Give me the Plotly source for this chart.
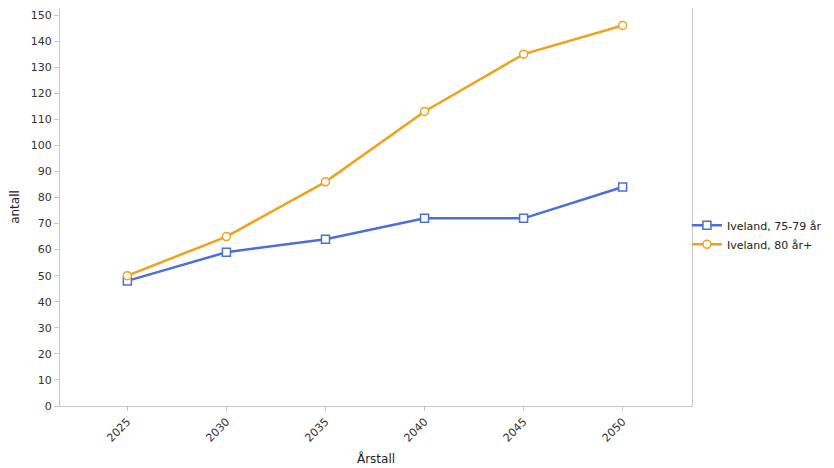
import plotly.graph_objects as go

years = [2025, 2030, 2035, 2040, 2045, 2050]
series_75_79 = [48, 59, 64, 72, 72, 84]
series_80 = [50, 65, 86, 113, 135, 146]
name_75_79 = "Iveland, 75-79 år"
name_80 = "Iveland, 80 år+"
y_ticks = list(range(0, 151, 10))

blue = "#4a6fd6"
orange = "#f0a21b"

fig = go.Figure()
fig.add_trace(go.Scatter(
    x=years, y=series_75_79, name=name_75_79, mode="lines+markers",
    line=dict(color=blue, width=2.5),
    marker=dict(symbol="square", size=8, color="white", line=dict(width=1.5, color=blue)),
))
fig.add_trace(go.Scatter(
    x=years, y=series_80, name=name_80, mode="lines+markers",
    line=dict(color=orange, width=2.5),
    marker=dict(symbol="circle", size=8, color="white", line=dict(width=1.5, color=orange)),
))

axis_line = "#c8c8c8"
fig.update_layout(
    width=834, height=468,
    margin=dict(l=52, r=150, t=0, b=70),
    paper_bgcolor="white", plot_bgcolor="white",
    font=dict(family="DejaVu Sans, sans-serif", size=11, color="#333333"),
    showlegend=True,
    legend=dict(x=0.992, y=0.43, xanchor="left", yanchor="middle",
                bgcolor="rgba(0,0,0,0)",
                font=dict(size=11, color="#222222"), tracegroupgap=0),
    xaxis=dict(
        range=[2021.6, 2053.5], tickvals=years, ticktext=[str(y) for y in years],
        tickangle=-45, showgrid=False, zeroline=False, automargin=False,
        showline=True, linecolor=axis_line, linewidth=1, mirror=True,
        ticks="outside", ticklen=4, tickcolor=axis_line,
        title=dict(text="Årstall", font=dict(size=12, color="#222222"), standoff=11),
    ),
    yaxis=dict(
        range=[0, 152.7], tickvals=y_ticks, showgrid=False, zeroline=False, automargin=False,
        showline=True, linecolor=axis_line, linewidth=1, mirror=True,
        ticks="outside", ticklen=5, tickcolor=axis_line,
        title=dict(text="antall", font=dict(size=12, color="#222222"), standoff=8),
    ),
)

fig.write_html("out.html")
